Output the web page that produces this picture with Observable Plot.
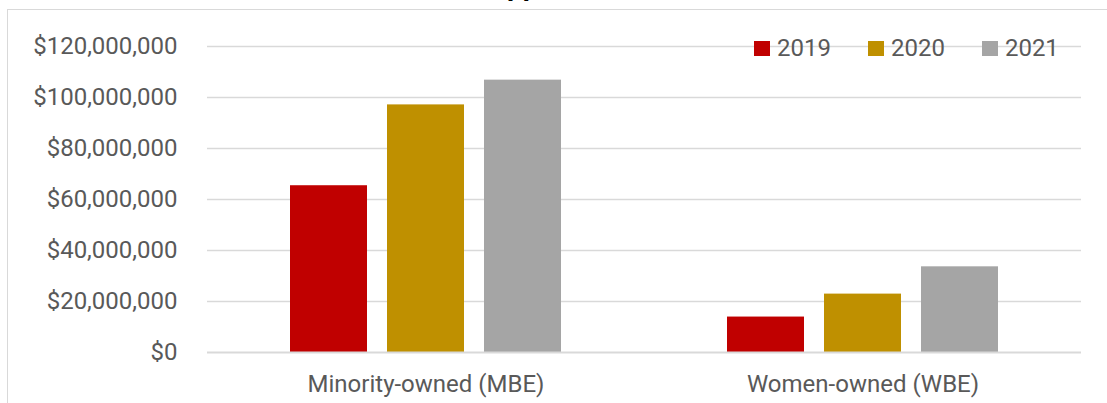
<!DOCTYPE html>
<html>
<head>
<meta charset="utf-8">
<script src="https://cdn.jsdelivr.net/npm/d3@7"></script>
<script src="https://cdn.jsdelivr.net/npm/@observablehq/plot@0.6"></script>
<style>
  html, body { margin: 0; padding: 0; background: #fff; }
  body { width: 1107px; height: 403px; position: relative; overflow: hidden; font-family: Roboto, sans-serif; }
  #frame { position: absolute; left: 7px; top: 9px; width: 1300px; height: 600px; border-left: 1.5px solid #d9d9d9; border-top: 1.5px solid #d9d9d9; }
  #title { position: absolute; left: 474px; top: -28px; font-size: 28px; line-height: 28px; font-weight: bold; color: #000; white-space: nowrap; z-index: 5; }
  #chart { position: absolute; left: 0; top: 0; }
  #legend { position: absolute; left: 754px; top: 34px; display: flex; align-items: center; font-size: 24px; color: #595959; }
  .item { display: flex; align-items: center; margin-right: 37px; }
  .sw { width: 16px; height: 15px; margin-right: 7px; }
</style>
</head>
<body>
<div id="frame"></div>
<div id="chart"></div>
<div id="title"><span id="tpre">Diverse Su</span>pplier Utilization</div>
<div id="legend"></div>
<script>
const categories = ["Minority-owned (MBE)", "Women-owned (WBE)"];
const years = ["2019", "2020", "2021"];
const mbeValues = [65400000, 97100000, 106800000];
const wbeValues = [13900000, 22900000, 33600000];
const yTicks = [0, 20000000, 40000000, 60000000, 80000000, 100000000, 120000000];
const colors = ["#C00000", "#BF9000", "#A5A5A5"];

const seriesByCategory = [mbeValues, wbeValues];
const data = [];
categories.forEach((c, i) => {
  years.forEach((y, j) => data.push({category: c, year: y, value: seriesByCategory[i][j]}));
});

const fmt = d => "$" + d3.format(",")(d);

const chart = Plot.plot({
  width: 1107,
  height: 403,
  marginTop: 46,
  marginBottom: 51,
  marginLeft: 207,
  marginRight: 26,
  style: {fontFamily: "Roboto, sans-serif", fontSize: "24px", color: "#595959", background: "transparent", overflow: "visible"},
  fx: {domain: categories, padding: 0, label: null},
  x: {domain: years, paddingInner: 0.206, paddingOuter: 0.85, axis: null},
  y: {domain: [0, 120000000], label: null},
  color: {domain: years, range: colors},
  marks: [
    Plot.ruleY(yTicks.filter(d => d > 0), {stroke: "#d9d9d9", strokeWidth: 1.5, strokeOpacity: 1}),
    Plot.axisY({ticks: yTicks, tickFormat: fmt, tickSize: 0, tickPadding: 30, label: null, fill: "#595959"}),
    Plot.axisFx({anchor: "bottom", tickSize: 0, tickPadding: 22, label: null, fill: "#595959"}),
    Plot.barY(data, {fx: "category", x: "year", y: "value", fill: "year"}),
    Plot.ruleY([0], {stroke: "#d9d9d9", strokeWidth: 2})
  ]
});
document.getElementById("chart").appendChild(chart);

// place the (mostly cut-off) title so its "pp" descenders sit where the reference shows them
const title = document.getElementById("title");
const preW = document.getElementById("tpre").getBoundingClientRect().width;
title.style.left = (507 - preW) + "px";

const legend = document.getElementById("legend");
years.forEach((y, i) => {
  const item = document.createElement("div");
  item.className = "item";
  const sw = document.createElement("div");
  sw.className = "sw";
  sw.style.background = colors[i];
  const t = document.createElement("span");
  t.textContent = y;
  item.appendChild(sw);
  item.appendChild(t);
  legend.appendChild(item);
});
</script>
</body>
</html>
